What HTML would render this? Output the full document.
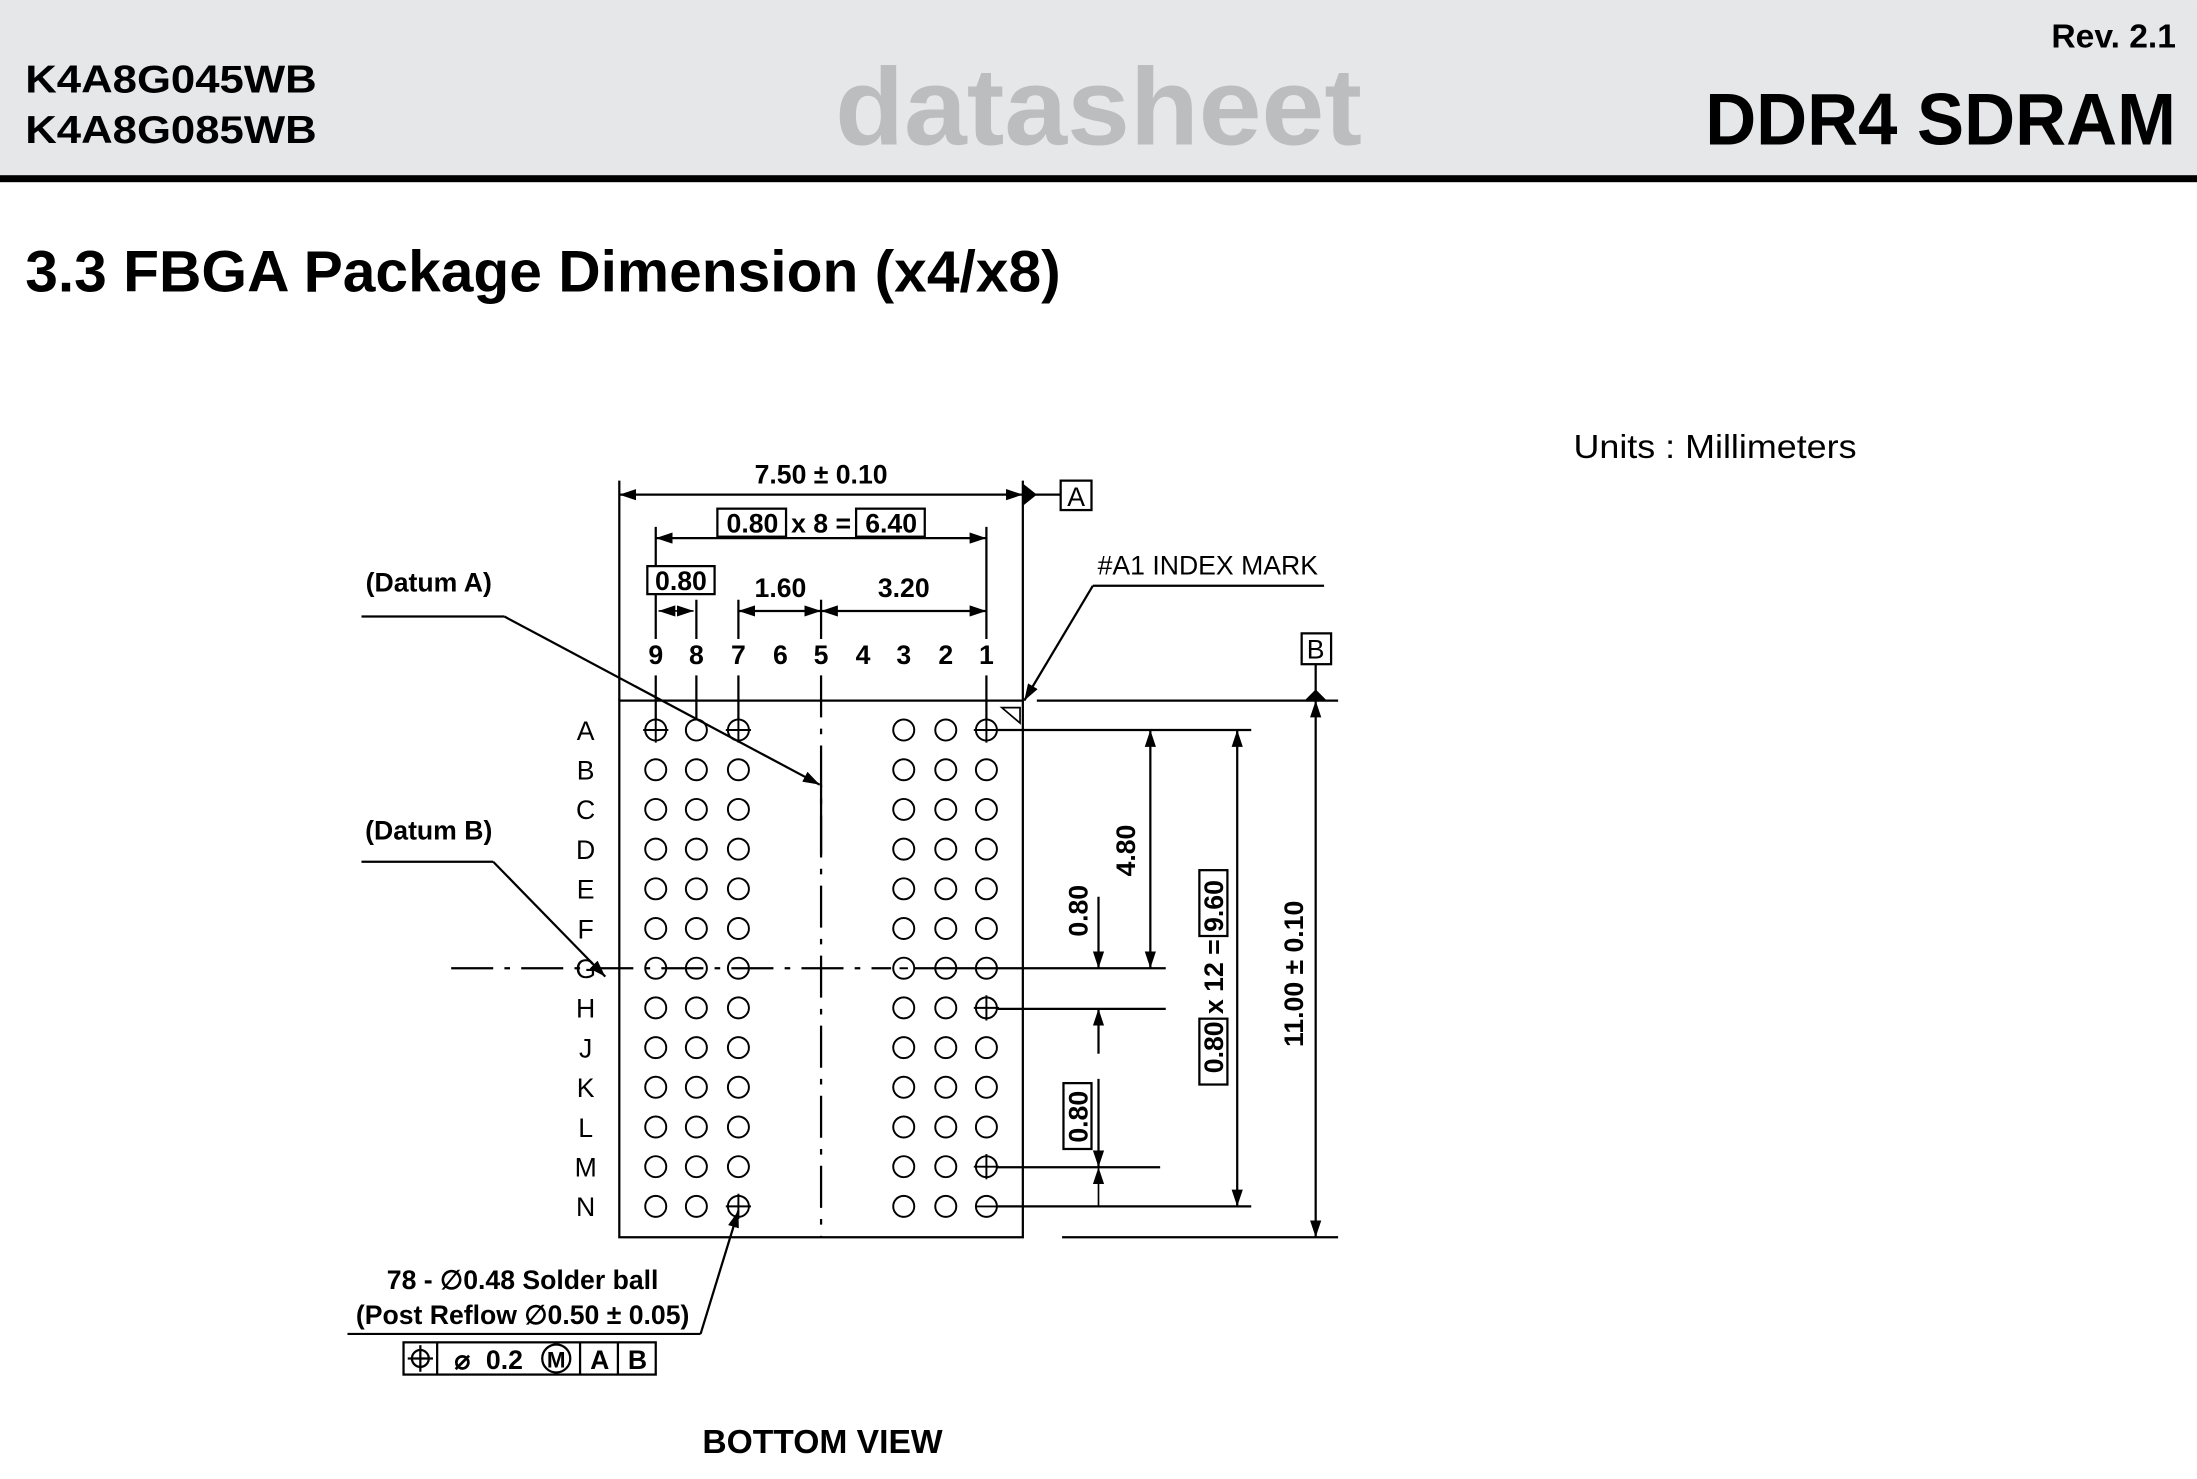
<!DOCTYPE html>
<html><head><meta charset="utf-8"><style>
html,body{margin:0;padding:0;background:#fff}
svg{display:block}
text{font-family:"Liberation Sans",Arial,sans-serif}
</style></head><body>
<svg id="s" width="2197" height="1479" viewBox="0 0 1568 1055.5" xmlns="http://www.w3.org/2000/svg">
<defs>
<marker id="ar" viewBox="0 0 12 8" refX="12" refY="4" markerWidth="12" markerHeight="8" markerUnits="userSpaceOnUse" orient="auto-start-reverse"><path d="M0,0 L12,4 L0,8 z" fill="#000"/></marker>
</defs>
<rect x="0" y="0" width="1568" height="125" fill="#e6e7e9"/>
<rect x="0" y="125" width="1568" height="5" fill="#000"/>
<text x="1553" y="34" text-anchor="end" font-size="24" font-weight="bold">Rev. 2.1</text>
<text x="18" y="66" font-size="28" font-weight="bold" textLength="208" lengthAdjust="spacingAndGlyphs">K4A8G045WB</text>
<text x="18" y="102" font-size="28" font-weight="bold" textLength="208" lengthAdjust="spacingAndGlyphs">K4A8G085WB</text>
<text x="596" y="103" font-size="78" font-weight="bold" fill="#bcbdbf" textLength="376" lengthAdjust="spacingAndGlyphs">datasheet</text>
<text x="1217" y="103" font-size="52" font-weight="bold" textLength="336" lengthAdjust="spacingAndGlyphs">DDR4 SDRAM</text>
<text x="18" y="208" font-size="42" font-weight="bold" textLength="739" lengthAdjust="spacingAndGlyphs">3.3 FBGA Package Dimension (x4/x8)</text>
<text x="1123" y="327" font-size="24" textLength="202" lengthAdjust="spacingAndGlyphs">Units : Millimeters</text>

<g stroke="#000" stroke-width="1.6" fill="none" id="g">
<rect x="442" y="500" width="288" height="383"/>
<line x1="442" y1="343" x2="442" y2="500"/>
<line x1="730" y1="343" x2="730" y2="500"/>
<line x1="442" y1="353" x2="730" y2="353" marker-start="url(#ar)" marker-end="url(#ar)"/>
<line x1="730" y1="353" x2="757" y2="353"/>
<rect x="757" y="343" width="22" height="21"/>
<line x1="468" y1="384" x2="704" y2="384" marker-start="url(#ar)" marker-end="url(#ar)"/>
<line x1="704" y1="376" x2="704" y2="456"/>
<line x1="704" y1="482" x2="704" y2="514"/>
<line x1="468" y1="376" x2="468" y2="404"/>
<line x1="468" y1="424" x2="468" y2="456"/>
<line x1="468" y1="482" x2="468" y2="514"/>
<rect x="512" y="363" width="49" height="20"/>
<rect x="611" y="363" width="49" height="20"/>
<rect x="462" y="404" width="48" height="20"/>
<line x1="497" y1="428" x2="497" y2="456"/>
<line x1="497" y1="482" x2="497" y2="514"/>
<line x1="527" y1="428" x2="527" y2="456"/>
<line x1="527" y1="482" x2="527" y2="514"/>
<line x1="470" y1="436" x2="495" y2="436" marker-start="url(#ar)" marker-end="url(#ar)" stroke-width="1.2"/>
<line x1="527" y1="436" x2="586" y2="436" marker-start="url(#ar)" marker-end="url(#ar)"/>
<line x1="586" y1="436" x2="704" y2="436" marker-start="url(#ar)" marker-end="url(#ar)"/>
<line x1="586" y1="428" x2="586" y2="456"/>
<line x1="586" y1="482" x2="586" y2="883" stroke-dasharray="30,8,4,8"/>
<line x1="586" y1="560" x2="586" y2="610"/>
<line x1="322" y1="691" x2="636" y2="691" stroke-dasharray="30,8,4,8"/>
<line x1="652" y1="691" x2="832" y2="691"/>
<line x1="258" y1="440" x2="360" y2="440"/>
<line x1="360" y1="440" x2="585" y2="560" marker-end="url(#ar)"/>
<line x1="258" y1="615" x2="352" y2="615"/>
<line x1="352" y1="615" x2="432" y2="697" marker-end="url(#ar)"/>
<line x1="780" y1="418" x2="945" y2="418"/>
<line x1="780" y1="418" x2="731" y2="500" marker-end="url(#ar)"/>
<path d="M715,505 L728,505 L728,516 z" stroke-width="1.2"/>
<line x1="740" y1="500" x2="955" y2="500"/>
<line x1="758" y1="883" x2="955" y2="883"/>
<line x1="712" y1="521" x2="893" y2="521"/>
<line x1="712" y1="720" x2="832" y2="720"/>
<line x1="712" y1="833" x2="828" y2="833"/>
<line x1="712" y1="861" x2="893" y2="861"/>
<line x1="821" y1="521" x2="821" y2="691" marker-start="url(#ar)" marker-end="url(#ar)"/>
<line x1="784" y1="640" x2="784" y2="691" marker-end="url(#ar)"/>
<line x1="784" y1="752" x2="784" y2="720" marker-end="url(#ar)"/>
<line x1="784" y1="770" x2="784" y2="833" marker-end="url(#ar)"/>
<line x1="784" y1="861" x2="784" y2="833" marker-end="url(#ar)" stroke-width="1.2"/>
<rect x="759" y="773" width="20" height="47"/>
<line x1="883" y1="521" x2="883" y2="861" marker-start="url(#ar)" marker-end="url(#ar)"/>
<line x1="939" y1="500" x2="939" y2="883" marker-start="url(#ar)" marker-end="url(#ar)"/>
<line x1="939" y1="474" x2="939" y2="493"/>
<rect x="929" y="452" width="21" height="22"/>
<rect x="856" y="621" width="20" height="47"/>
<rect x="856" y="727" width="20" height="47"/>
<line x1="248" y1="952" x2="500" y2="952"/>
<line x1="500" y1="952" x2="527" y2="864" marker-end="url(#ar)"/>
<rect x="288" y="958" width="180" height="23"/>
<line x1="312" y1="958" x2="312" y2="981"/>
<line x1="414" y1="958" x2="414" y2="981"/>
<line x1="441" y1="958" x2="441" y2="981"/>
<circle cx="300" cy="969.5" r="6"/>
<line x1="291" y1="969.5" x2="309" y2="969.5"/>
<line x1="300" y1="960" x2="300" y2="979"/>
<circle cx="397" cy="969.5" r="10"/>
</g>
<path d="M730,345 L740,353 L730,361 z" fill="#000"/>
<path d="M931,500 L939,492 L947,500 z" fill="#000"/>

<g font-size="19" font-weight="bold" text-anchor="middle">
<text x="586" y="345">7.50 ± 0.10</text>
<text x="537" y="380">0.80</text>
<text x="586" y="380">x 8 =</text>
<text x="636" y="380">6.40</text>
<text x="486" y="421">0.80</text>
<text x="557" y="426">1.60</text>
<text x="645" y="426">3.20</text>
<text x="306" y="422">(Datum A)</text>
<text x="306" y="599">(Datum B)</text>
<text x="373" y="920">78 - ∅0.48 Solder ball</text>
<text x="373" y="945">(Post Reflow ∅0.50 ± 0.05)</text>
<text x="330" y="977">⌀</text>
<text x="360" y="977">0.2</text>
<text x="397" y="976" font-size="16">M</text>
<text x="428" y="977">A</text>
<text x="455" y="977">B</text>
<text x="587" y="1037" font-size="24">BOTTOM VIEW</text>
<text transform="translate(810,607) rotate(-90)">4.80</text>
<text transform="translate(776,650) rotate(-90)">0.80</text>
<text transform="translate(776,797) rotate(-90)">0.80</text>
<text transform="translate(873,697) rotate(-90)">0.80 x 12 = 9.60</text>
<text transform="translate(930,695) rotate(-90)">11.00 ± 0.10</text>
</g>
<g font-size="19" text-anchor="middle">
<text x="768" y="361">A</text>
<text x="939" y="470">B</text>
<text x="862" y="410">#A1 INDEX MARK</text>
</g>
<g id="cols" font-size="19" font-weight="bold" text-anchor="middle"></g>
<g id="rows" font-size="19" text-anchor="middle"></g>
<g id="balls" stroke="#000" stroke-width="1.4" fill="none"></g>
</svg>
<script>
var ns="http://www.w3.org/2000/svg";
function el(p,t,a,txt){var e=document.createElementNS(ns,t);for(var k in a)e.setAttribute(k,a[k]);if(txt)e.textContent=txt;document.getElementById(p).appendChild(e);}
var cx=[704,675,645,616,586,557,527,497,468];
for(var i=0;i<9;i++)el("cols","text",{x:cx[i],y:474},String(i+1));
var rl="ABCDEFGHJKLMN";
var ballCols=[468,497,527,645,675,704];
for(var r=0;r<13;r++){var y=521+r*28.33;
 el("rows","text",{x:418,y:y+7},rl[r]);
 for(var c=0;c<6;c++){el("balls","circle",{cx:ballCols[c],cy:y,r:7.5});}
}
var cross=[[0,468],[0,527],[0,704],[7,704],[11,704],[12,527]];
cross.forEach(function(p){var y=521+p[0]*28.33;el("balls","line",{x1:p[1]-9,y1:y,x2:p[1]+9,y2:y});el("balls","line",{x1:p[1],y1:y-9,x2:p[1],y2:y+9});});
el("balls","line",{x1:697,y1:861,x2:712,y2:861});
el("balls","line",{x1:642,y1:691,x2:648,y2:691});
</script>
</body></html>
